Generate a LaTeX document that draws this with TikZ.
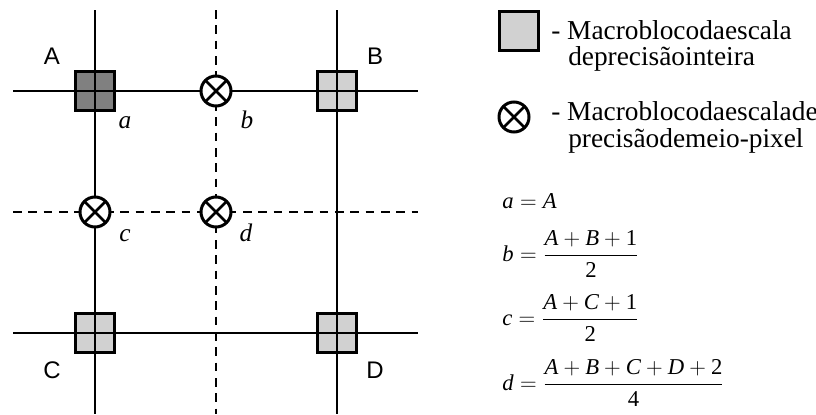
\documentclass[tikz,border=0pt]{standalone}
\usepackage{fontspec}
\setmainfont{Liberation Serif}
\newfontfamily\cornerfont{Liberation Sans}
\tikzset{
  intpel/.style={draw, line width=2.25pt, minimum size=29.25pt, inner sep=0pt, fill=black!18},
  halfpel/.style={circle, draw, line width=2.25pt, minimum size=22.5pt, inner sep=0pt, fill=white,
    path picture={
      \draw[line width=2pt] (path picture bounding box.north west) -- (path picture bounding box.south east)
        (path picture bounding box.north east) -- (path picture bounding box.south west);}},
  fullline/.style={line width=1.6pt},
  halfline/.style={line width=1.6pt, dash pattern=on 6.5pt off 5pt},
  cornerlbl/.style={font=\cornerfont\fontsize{18}{18}\selectfont, anchor=base, inner sep=0pt},
  pelname/.style={font=\fontsize{19}{19}\selectfont\itshape, anchor=base, inner sep=0pt},
  legtxt/.style={font=\fontsize{20.5}{20.5}\selectfont, anchor=base west, inner sep=0pt},
  eqn/.style={font=\fontsize{17}{20}\selectfont, anchor=west, inner sep=0pt}
}
\begin{document}
\begin{tikzpicture}[x=0.75pt, y=-0.75pt]
\useasboundingbox (0,0) rectangle (816,414);
% ends of the grid lines
\coordinate (v1t) at (95,10);  \coordinate (v1b) at (95,414);
\coordinate (v2t) at (216,10); \coordinate (v2b) at (216,414);
\coordinate (v3t) at (337,10); \coordinate (v3b) at (337,414);
\coordinate (h1l) at (13,91);  \coordinate (h1r) at (418,91);
\coordinate (h2l) at (13,212); \coordinate (h2r) at (418,212);
\coordinate (h3l) at (13,333); \coordinate (h3r) at (418,333);
% integer pixels
\node[intpel, fill=black!50] (A) at (95,91) {};
\node[intpel] (B) at (337,91) {};
\node[intpel] (C) at (95,333) {};
\node[intpel] (D) at (337,333) {};
% grid
\draw[fullline] (v1t) -- (v1b);
\draw[halfline] (v2t) -- (v2b);
\draw[fullline] (v3t) -- (v3b);
\draw[fullline] (h1l) -- (h1r);
\draw[halfline] (h2l) -- (h2r);
\draw[fullline] (h3l) -- (h3r);
% half pixels
\node[halfpel] (b) at (216,91) {};
\node[halfpel] (c) at (95,212) {};
\node[halfpel] (d) at (216,212) {};
% labels
\node[cornerlbl] (lA) at (52,64) {A};
\node[cornerlbl] (lB) at (375,64) {B};
\node[cornerlbl] (lC) at (52,378) {C};
\node[cornerlbl] (lD) at (375,378) {D};
\node[pelname] (la) at (125,128) {a};
\node[pelname] (lb) at (247,128) {b};
\node[pelname] (lc) at (125,241) {c};
\node[pelname] (ld) at (246,241) {d};
% legend
\node[intpel] (keyint) at (519,31) {};
\node[legtxt] (keyint1) at (551,39) {- Macroblocodaescala};
\node[legtxt] (keyint2) at (568,65) {deprecisãointeira};
\node[halfpel] (keyhalf) at (514,117) {};
\node[legtxt] (keyhalf1) at (551,120) {- Macroblocodaescalade};
\node[legtxt] (keyhalf2) at (568,147) {precisãodemeio-pixel};
% formulas
\node[eqn, anchor=base west] (fa) at (502,208) {$\mathit{a}=\mathit{A}$};
\node[eqn] (fb) at (502,254) {$\mathit{b}=\displaystyle\frac{\mathit{A}+\mathit{B}+\mathrm{1}}{\mathrm{2}}$};
\node[eqn] (fc) at (502,318) {$\mathit{c}=\displaystyle\frac{\mathit{A}+\mathit{C}+\mathrm{1}}{\mathrm{2}}$};
\node[eqn] (fd) at (502,383) {$\mathit{d}=\displaystyle\frac{\mathit{A}+\mathit{B}+\mathit{C}+\mathit{D}+\mathrm{2}}{\mathrm{4}}$};
\end{tikzpicture}
\end{document}
